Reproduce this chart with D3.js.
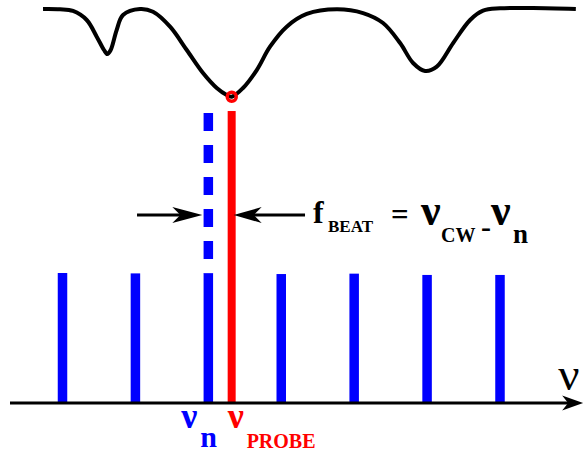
<!DOCTYPE html>
<html>
<head>
<meta charset="utf-8">
<script src="https://cdn.jsdelivr.net/npm/d3@7"></script>
<style>
  html, body { margin: 0; padding: 0; background: #fff; }
  svg { display: block; }
</style>
</head>
<body>
<svg id="chart" width="585" height="455"></svg>
<script>
// Frequency comb modes (mode index) and their amplitudes
const combModes = [1, 2, 3, 4, 5, 6, 7];
const combAmps = [1.0, 0.997, 0.995, 0.992, 0.995, 0.985, 0.985];

// Mode n that beats with the probe, extended (dashed) up to the spectrum
const beatMode = 3;
const beatLineTop = 2.23;

// CW probe laser frequency (in mode units) and its line height
const probeFreq = 3.32;
const probeTop = 2.246;

// Absorption spectrum: frequency (mode units) and transmission
const specFreq = [0.733, 0.966, 1.144, 1.332, 1.469, 1.569, 1.615, 1.661, 1.743, 1.830,
  2.063, 2.241, 2.475, 2.704, 2.927, 3.115, 3.252, 3.321, 3.476, 3.664, 3.846, 4.075,
  4.350, 4.761, 5.122, 5.396, 5.630, 5.808, 5.973, 6.133, 6.357, 6.590, 6.768, 7.000,
  7.454, 8.040];
const specTrans = [1.000, 0.998, 0.985, 0.916, 0.789, 0.687, 0.656, 0.687, 0.840, 0.954,
  1.000, 0.979, 0.865, 0.687, 0.511, 0.397, 0.344, 0.330, 0.397, 0.534, 0.712, 0.865,
  0.962, 0.998, 0.969, 0.893, 0.740, 0.588, 0.527, 0.560, 0.740, 0.916, 0.987, 1.005,
  1.008, 1.000];

// Frequency axis extent and the level of the beat-note arrows
const axisExtent = [0.28, 8.14];
const arrowLevel = 1.446;

const SERIF = "Liberation Serif, Times New Roman, serif";

const svg = d3.select("#chart");

const x = d3.scaleLinear().domain([1, 7]).range([62.5, 500]);
const y = d3.scaleLinear().domain([0, 1]).range([403, 273]);
const yT = d3.scaleLinear().domain([0, 1]).range([140, 9]);

// Absorption spectrum curve
const line = d3.line()
  .x((d, i) => x(specFreq[i]))
  .y((d, i) => yT(specTrans[i]))
  .curve(d3.curveCatmullRom.alpha(0.5));
svg.append("path")
  .attr("d", line(specFreq))
  .attr("fill", "none")
  .attr("stroke", "#000")
  .attr("stroke-width", 4)
  .attr("stroke-linejoin", "round");

// Dashed extension of mode n
svg.append("line")
  .attr("x1", x(beatMode)).attr("x2", x(beatMode))
  .attr("y1", y(beatLineTop)).attr("y2", y(combAmps[beatMode - 1]))
  .attr("stroke", "#0000ff")
  .attr("stroke-width", 9.5)
  .attr("stroke-dasharray", "18,14");

// Comb lines
const barW = 9.5;
svg.selectAll("rect.comb")
  .data(combModes)
  .join("rect")
  .attr("class", "comb")
  .attr("x", d => x(d) - barW / 2)
  .attr("y", (d, i) => y(combAmps[i]))
  .attr("width", barW)
  .attr("height", (d, i) => y(0) - y(combAmps[i]))
  .attr("fill", "#0000ff");

// Probe line
const probeW = 8;
svg.append("rect")
  .attr("x", x(probeFreq) - probeW / 2)
  .attr("y", y(probeTop))
  .attr("width", probeW)
  .attr("height", y(0) - y(probeTop))
  .attr("fill", "#ff0000");

// Probe marker on the spectrum minimum
const minIdx = d3.minIndex(specTrans);
svg.append("circle")
  .attr("cx", x(specFreq[minIdx]))
  .attr("cy", yT(specTrans[minIdx]))
  .attr("r", 4.5)
  .attr("fill", "none")
  .attr("stroke", "#ff0000")
  .attr("stroke-width", 3.5);

// Frequency axis (no ticks) with arrow head
const axisScale = d3.scaleLinear().domain(axisExtent).range(axisExtent.map(x));
const axisG = svg.append("g")
  .attr("transform", `translate(0,${y(0)})`)
  .call(d3.axisBottom(axisScale).tickValues([]).tickSizeOuter(0));
axisG.select(".domain")
  .attr("stroke", "#000")
  .attr("stroke-width", 3)
  .attr("d", `M${x(axisExtent[0])},0H${x(axisExtent[1]) - 8}`);

function arrowHead(tipX, tipY, dir, len, half, notch) {
  const bx = tipX - dir * len;
  const nx = tipX - dir * (len - notch);
  return `M${tipX},${tipY}L${bx},${tipY - half}L${nx},${tipY}L${bx},${tipY + half}Z`;
}
svg.append("path")
  .attr("d", arrowHead(x(axisExtent[1]), y(0), 1, 21, 7.5, 6))
  .attr("fill", "#000");

// Beat-note arrows pointing at mode n and the probe
const ay = y(arrowLevel);
const leftTail = 2.022, rightTail = 4.326;
const leftTip = x(beatMode) - 6, rightTip = x(probeFreq) + 2;
svg.append("line")
  .attr("x1", x(leftTail)).attr("x2", leftTip - 10)
  .attr("y1", ay).attr("y2", ay)
  .attr("stroke", "#000").attr("stroke-width", 3);
svg.append("path")
  .attr("d", arrowHead(leftTip, ay, 1, 30, 8, 8))
  .attr("fill", "#000");
svg.append("line")
  .attr("x1", rightTip + 10).attr("x2", x(rightTail))
  .attr("y1", ay).attr("y2", ay)
  .attr("stroke", "#000").attr("stroke-width", 3);
svg.append("path")
  .attr("d", arrowHead(rightTip, ay, -1, 28, 8, 8))
  .attr("fill", "#000");

// Beat-frequency equation, laid out piece by piece after the right arrow
const ex = x(rightTail);
const eq = svg.append("text")
  .attr("font-family", SERIF)
  .attr("font-weight", "bold")
  .attr("fill", "#000");
const eqParts = [
  { t: "f", dx: 8, y: ay + 8, size: 32 },
  { t: "BEAT", dx: 23, y: ay + 17, size: 17 },
  { t: "=", dx: 86, y: ay + 10, size: 31 },
  { t: "\u03BD", dx: 116, y: ay + 10, size: 44 },
  { t: "CW", dx: 136, y: ay + 27, size: 20 },
  { t: "-", dx: 176, y: ay + 22, size: 30 },
  { t: "\u03BD", dx: 186, y: ay + 10, size: 44 },
  { t: "n", dx: 208, y: ay + 28, size: 27 }
];
eqParts.forEach(p => {
  eq.append("tspan")
    .attr("x", ex + p.dx).attr("y", p.y)
    .attr("font-size", p.size)
    .text(p.t);
});

// Labels under the mode-n line and the probe line
const baseY = y(0);
const lblN = svg.append("text")
  .attr("font-family", SERIF)
  .attr("font-weight", "bold")
  .attr("fill", "#0000ff");
lblN.append("tspan").attr("x", x(beatMode) - 27).attr("y", baseY + 25)
  .attr("font-size", 36).text("\u03BD");
lblN.append("tspan").attr("x", x(beatMode) - 8).attr("y", baseY + 44)
  .attr("font-size", 30).text("n");

const lblP = svg.append("text")
  .attr("font-family", SERIF)
  .attr("font-weight", "bold")
  .attr("fill", "#ff0000");
lblP.append("tspan").attr("x", x(probeFreq) - 4).attr("y", baseY + 25)
  .attr("font-size", 36).text("\u03BD");
lblP.append("tspan").attr("x", x(probeFreq) + 15).attr("y", baseY + 45)
  .attr("font-size", 20).text("PROBE");

// Axis name
svg.append("text")
  .attr("x", x(axisExtent[1]) - 25)
  .attr("y", baseY - 13)
  .attr("font-family", SERIF)
  .attr("font-size", 47)
  .attr("fill", "#000")
  .text("\u03BD");
</script>
</body>
</html>
